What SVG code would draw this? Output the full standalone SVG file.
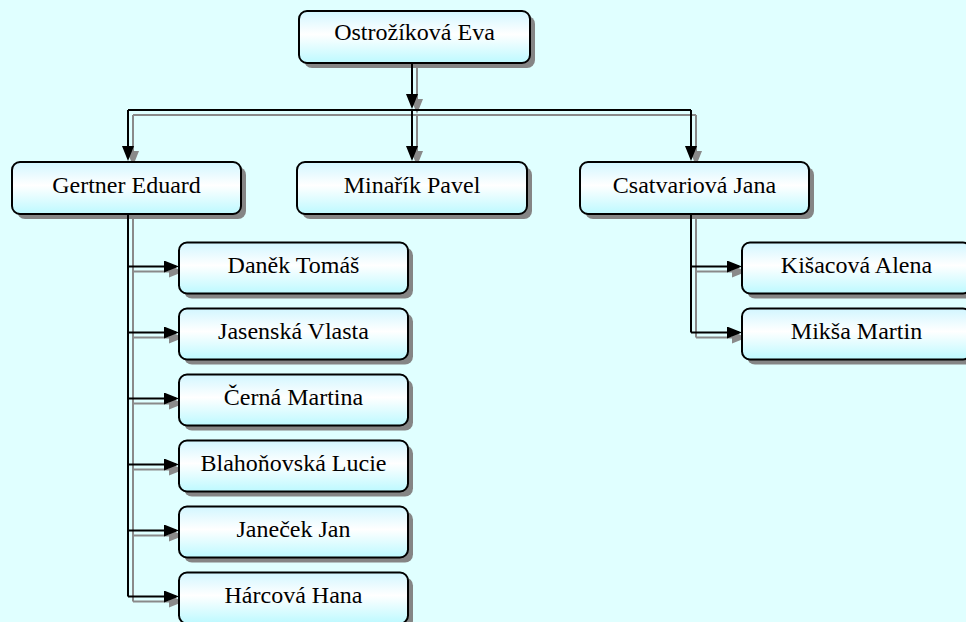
<svg xmlns="http://www.w3.org/2000/svg" width="966" height="622" viewBox="0 0 966 622">
<defs>
<linearGradient id="boxFill" x1="0" y1="0" x2="0" y2="1">
<stop offset="0" stop-color="#d2f6ff"/>
<stop offset="0.45" stop-color="#ffffff"/>
<stop offset="1" stop-color="#bdf9ff"/>
</linearGradient>
<marker id="arrowBlack" markerUnits="userSpaceOnUse" markerWidth="15" markerHeight="12" refX="12" refY="6" orient="auto" viewBox="0 0 15 12">
<path d="M0,0 L15,6 L0,12 z" fill="#000"/>
</marker>
<marker id="arrowGray" markerUnits="userSpaceOnUse" markerWidth="15" markerHeight="12" refX="12" refY="6" orient="auto" viewBox="0 0 15 12">
<path d="M0,0 L15,6 L0,12 z" fill="#8a8a8a"/>
</marker>
<style>
.bg{fill:#e0ffff}
.box{fill:url(#boxFill);stroke:#000;stroke-width:2}
.shadow{fill:#858585}
.lbl{font-size:24px;fill:#000;text-anchor:middle}
.con{fill:none;stroke:#000;stroke-width:2}
.conArrow{marker-end:url(#arrowBlack)}
.sh{fill:none;stroke:#8a8a8a;stroke-width:2}
.shArrow{marker-end:url(#arrowGray)}
</style>
</defs>
<rect class="bg" x="0" y="0" width="966" height="622"/>

<g id="connector-shadows" transform="translate(5,5)">
<path class="sh shArrow" d="M412,63 V106"/>
<path class="sh" d="M128,110 H691"/>
<path class="sh shArrow" d="M128,110 V158"/>
<path class="sh shArrow" d="M412,110 V158"/>
<path class="sh shArrow" d="M691,110 V158"/>
<path class="sh" d="M128,214 V596.5"/>
<path class="sh shArrow" d="M128,266.5 H176"/>
<path class="sh shArrow" d="M128,332.5 H176"/>
<path class="sh shArrow" d="M128,398.5 H176"/>
<path class="sh shArrow" d="M128,464.5 H176"/>
<path class="sh shArrow" d="M128,530.5 H176"/>
<path class="sh shArrow" d="M128,596.5 H176"/>
<path class="sh" d="M691,214 V332.5"/>
<path class="sh shArrow" d="M691,266.5 H739"/>
<path class="sh shArrow" d="M691,332.5 H739"/>
</g>

<g id="nodes" font-family="'Liberation Serif', 'Times New Roman', Times, 'DejaVu Serif', serif">
<g id="node-ostrozikova">
<rect class="shadow" x="304" y="16" width="231" height="52" rx="8"/>
<rect class="box" x="299" y="11" width="231" height="52" rx="8"/>
<text class="lbl" x="414.5" y="40">Ostrožíková Eva</text>
</g>
<g id="node-gertner">
<rect class="shadow" x="17" y="167" width="229" height="52" rx="8"/>
<rect class="box" x="12" y="162" width="229" height="52" rx="8"/>
<text class="lbl" x="126.5" y="192.5">Gertner Eduard</text>
</g>
<g id="node-minarik">
<rect class="shadow" x="302" y="167" width="230" height="52" rx="8"/>
<rect class="box" x="297" y="162" width="230" height="52" rx="8"/>
<text class="lbl" x="412" y="192.5">Minařík Pavel</text>
</g>
<g id="node-csatvariova">
<rect class="shadow" x="585" y="167" width="229" height="52" rx="8"/>
<rect class="box" x="580" y="162" width="229" height="52" rx="8"/>
<text class="lbl" x="694.5" y="192.5">Csatvariová Jana</text>
</g>
<g id="node-danek">
<rect class="shadow" x="184" y="247.5" width="229" height="51" rx="8"/>
<rect class="box" x="179" y="242.5" width="229" height="51" rx="8"/>
<text class="lbl" x="293.5" y="272.5">Daněk Tomáš</text>
</g>
<g id="node-jasenska">
<rect class="shadow" x="184" y="313.5" width="229" height="51" rx="8"/>
<rect class="box" x="179" y="308.5" width="229" height="51" rx="8"/>
<text class="lbl" x="293.5" y="338.5">Jasenská Vlasta</text>
</g>
<g id="node-cerna">
<rect class="shadow" x="184" y="379.5" width="229" height="51" rx="8"/>
<rect class="box" x="179" y="374.5" width="229" height="51" rx="8"/>
<text class="lbl" x="293.5" y="404.5">Černá Martina</text>
</g>
<g id="node-blahonovska">
<rect class="shadow" x="184" y="445.5" width="229" height="51" rx="8"/>
<rect class="box" x="179" y="440.5" width="229" height="51" rx="8"/>
<text class="lbl" x="293.5" y="470.5">Blahoňovská Lucie</text>
</g>
<g id="node-janecek">
<rect class="shadow" x="184" y="511.5" width="229" height="51" rx="8"/>
<rect class="box" x="179" y="506.5" width="229" height="51" rx="8"/>
<text class="lbl" x="293.5" y="536.5">Janeček Jan</text>
</g>
<g id="node-harcova">
<rect class="shadow" x="184" y="577.5" width="229" height="51" rx="8"/>
<rect class="box" x="179" y="572.5" width="229" height="51" rx="8"/>
<text class="lbl" x="293.5" y="602.5">Hárcová Hana</text>
</g>
<g id="node-kisacova">
<rect class="shadow" x="747" y="247.5" width="229" height="51" rx="8"/>
<rect class="box" x="742" y="242.5" width="229" height="51" rx="8"/>
<text class="lbl" x="856.5" y="272.5">Kišacová Alena</text>
</g>
<g id="node-miksa">
<rect class="shadow" x="747" y="313.5" width="229" height="51" rx="8"/>
<rect class="box" x="742" y="308.5" width="229" height="51" rx="8"/>
<text class="lbl" x="856.5" y="338.5">Mikša Martin</text>
</g>
</g>

<g id="connectors">
<path class="con conArrow" d="M412,63 V106"/>
<path class="con" d="M128,110 H691"/>
<path class="con conArrow" d="M128,110 V158"/>
<path class="con conArrow" d="M412,110 V158"/>
<path class="con conArrow" d="M691,110 V158"/>
<path class="con" d="M128,214 V596.5"/>
<path class="con conArrow" d="M128,266.5 H176"/>
<path class="con conArrow" d="M128,332.5 H176"/>
<path class="con conArrow" d="M128,398.5 H176"/>
<path class="con conArrow" d="M128,464.5 H176"/>
<path class="con conArrow" d="M128,530.5 H176"/>
<path class="con conArrow" d="M128,596.5 H176"/>
<path class="con" d="M691,214 V332.5"/>
<path class="con conArrow" d="M691,266.5 H739"/>
<path class="con conArrow" d="M691,332.5 H739"/>
</g>
</svg>
